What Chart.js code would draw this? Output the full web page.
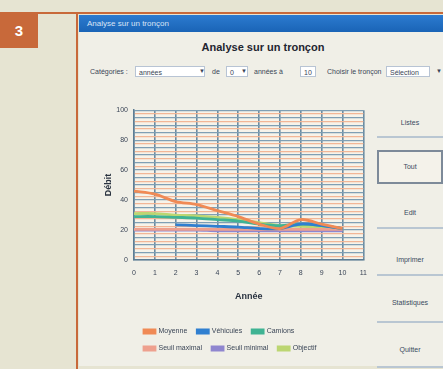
<!DOCTYPE html>
<html lang="fr">
<head>
<meta charset="utf-8">
<title>Analyse sur un tronçon</title>
<script src="https://cdn.jsdelivr.net/npm/chart.js@4/dist/chart.umd.min.js"></script>
<style>
  html, body { margin: 0; padding: 0; }
  body {
    width: 443px; height: 369px; position: relative; overflow: hidden;
    background: #e6e4d2;
    font-family: "Liberation Sans", Arial, sans-serif;
    color: #333d4d;
  }
  .abs { position: absolute; }
  .topline { left: 0; top: 12px; width: 443px; height: 2px; background: #c8693a; }
  .sideline { left: 76px; top: 12px; width: 2px; height: 357px; background: #c8693a; }
  .badge {
    left: 0; top: 13px; width: 38px; height: 35px; background: #c8693a;
    color: #fff; font: bold 15px "Liberation Sans", Arial, sans-serif;
    display: flex; align-items: center; justify-content: center;
  }
  .win { left: 79px; top: 15px; width: 364px; height: 351px; background: #f0efe7; }
  .titlebar {
    left: 79px; top: 15px; width: 364px; height: 17px;
    background: linear-gradient(#2c7bd0, #1a64b6);
    color: #d9e3f5; font-size: 8px; line-height: 17px; padding-left: 8px; box-sizing: border-box;
  }
  .heading {
    left: 150px; top: 41px; width: 226px; text-align: center;
    font: bold 11px "Liberation Sans", Arial, sans-serif; color: #1f2530;
  }
  .ctl { font-size: 7px; line-height: 12px; top: 66px; color: #3a4556; }
  .box {
    top: 66px; height: 11px; background: #fff; border: 1px solid #b8c4d4;
    font-size: 7px; line-height: 11px; padding-left: 3px; box-sizing: border-box; color: #3a4556;
  }
  .arrow { font-size: 6px; color: #3a4556; }
  .btn {
    left: 377px; width: 66px; text-align: center; font-size: 7px; color: #3a4a60;
    border-bottom: 2px solid #b9c6d2; box-sizing: border-box;
  }
  .btn.sel { border: 2px solid #7d8a99; background: #f4f2ea; }
  #chartWrap { left: 96px; top: 100px; width: 280px; height: 262px; }
</style>
</head>
<body>
<div class="abs topline"></div>
<div class="abs sideline"></div>
<div class="abs badge">3</div>
<div class="abs win"></div>
<div class="abs titlebar">Analyse sur un tronçon</div>
<div class="abs heading">Analyse sur un tronçon</div>

<div class="abs ctl" style="left:90px;">Catégories :</div>
<div class="abs box" style="left:135px;width:70px;">années</div>
<div class="abs arrow" style="left:199px;top:68px;">▼</div>
<div class="abs ctl" style="left:212px;">de</div>
<div class="abs box" style="left:226px;width:22px;">0</div>
<div class="abs arrow" style="left:241px;top:68px;">▼</div>
<div class="abs ctl" style="left:254px;">années à</div>
<div class="abs box" style="left:300px;width:16px;">10</div>
<div class="abs ctl" style="left:327px;">Choisir le tronçon</div>
<div class="abs box" style="left:386px;width:44px;">Sélection</div>
<div class="abs arrow" style="left:436px;top:68px;">▼</div>

<div class="abs btn" style="top:116px;height:22px;line-height:14px;">Listes</div>
<div class="abs btn sel" style="top:150px;height:34px;line-height:30px;">Tout</div>
<div class="abs btn" style="top:200px;height:29px;line-height:26px;">Edit</div>
<div class="abs btn" style="top:246px;height:30px;line-height:28px;">Imprimer</div>
<div class="abs btn" style="top:292px;height:31px;line-height:22px;">Statistiques</div>
<div class="abs btn" style="top:338px;height:30px;line-height:24px;">Quitter</div>

<div class="abs" id="chartWrap"><canvas id="chart"></canvas></div>

<script>
// Années du tronçon (axe des abscisses)
const years = ['0', '1', '2', '3', '4', '5', '6', '7', '8', '9', '10', '11'];

// Séries par année
const moyenne      = [46, 44, 39, 37, 33, 29, 24, 21, 27, 24, 21];
const vehicules    = [null, null, 23.5, 23, 22.5, 22, 21, 21, 24, 23, 21];
const camions      = [29, 29, 28.5, 28, 27, 26, 24, 23, 24, 23, 21];
const seuilMaximal = [20.5, 20.5, 20.5, 20.5, 20.5, 20.5, 20.5, 20.5, 20.5, 20.5, 20.5];
const seuilMinimal = [20, 20, 20, 20, 19.5, 19.5, 19.5, 19.5, 19.5, 19.5, 19.5];
const objectif     = [31, 31, 30, 29.5, 28.5, 27, 25, 23, 22.5, 22, 21];

// Graduations de l'axe vertical
const yMin = 0;
const yMax = 100;
const yStep = 2.5;
const yLabelEvery = 20;

const textColor = '#3a4556';
const font7 = { family: '"Liberation Sans", Arial, sans-serif', size: 7 };

function serie(label, data, color) {
  return {
    label, data,
    borderColor: color, backgroundColor: color,
    borderWidth: 2.8, pointRadius: 0, tension: 0.3, spanGaps: false
  };
}

// Fond de la zone de tracé
const plotBackground = {
  id: 'plotBackground',
  beforeDraw(chart) {
    const { ctx, chartArea: a } = chart;
    ctx.save();
    ctx.fillStyle = '#f6f3ea';
    ctx.fillRect(a.left, a.top, a.right - a.left, a.bottom - a.top);
    ctx.restore();
  }
};

new Chart(document.getElementById('chart'), {
  type: 'line',
  data: {
    labels: years,
    datasets: [
      serie('Moyenne', moyenne, '#f08a55'),
      serie('Véhicules', vehicules, '#2f7fd0'),
      serie('Camions', camions, '#3fb393'),
      serie('Seuil maximal', seuilMaximal, '#eea08e'),
      serie('Seuil minimal', seuilMinimal, '#8f86cf'),
      serie('Objectif', objectif, '#bcd672')
    ]
  },
  options: {
    responsive: true,
    maintainAspectRatio: false,
    animation: false,
    layout: { padding: { left: 3, right: 9, top: 10, bottom: 0 } },
    scales: {
      x: {
        ticks: { font: font7, color: textColor, padding: 9, autoSkip: false, maxRotation: 0 },
        grid: { color: '#6a8ba2', lineWidth: 1.6, drawTicks: false },
        border: { color: '#5d7d94', width: 1.5 },
        title: {
          display: true, text: 'Année', color: '#2a3340',
          font: { family: font7.family, size: 9, weight: 'bold' },
          padding: { top: 4, bottom: 16 }
        },
        afterFit(scale) { scale.height = 58; }
      },
      y: {
        min: yMin, max: yMax,
        ticks: {
          stepSize: yStep, autoSkip: false, font: font7, color: textColor, padding: 6,
          callback: (v) => (v % yLabelEvery === 0 ? v : '')
        },
        grid: {
          drawTicks: false, lineWidth: 1.3,
          color: (c) => (c.tick && c.tick.value % 5 === 0 ? '#7f9fb4' : '#f2b696')
        },
        border: { color: '#5d7d94', width: 1.5 },
        title: {
          display: true, text: 'Débit', color: '#2a3340',
          font: { family: font7.family, size: 9, weight: 'bold' },
          padding: 4
        },
        afterFit(scale) { scale.width = 35; }
      }
    },
    plugins: {
      legend: {
        position: 'bottom',
        fullSize: false,
        align: 'start',
        labels: { font: font7, color: textColor, boxWidth: 11, boxHeight: 3, padding: 10 }
      },
      tooltip: { enabled: false }
    }
  },
  plugins: [plotBackground]
});
</script>
</body>
</html>
